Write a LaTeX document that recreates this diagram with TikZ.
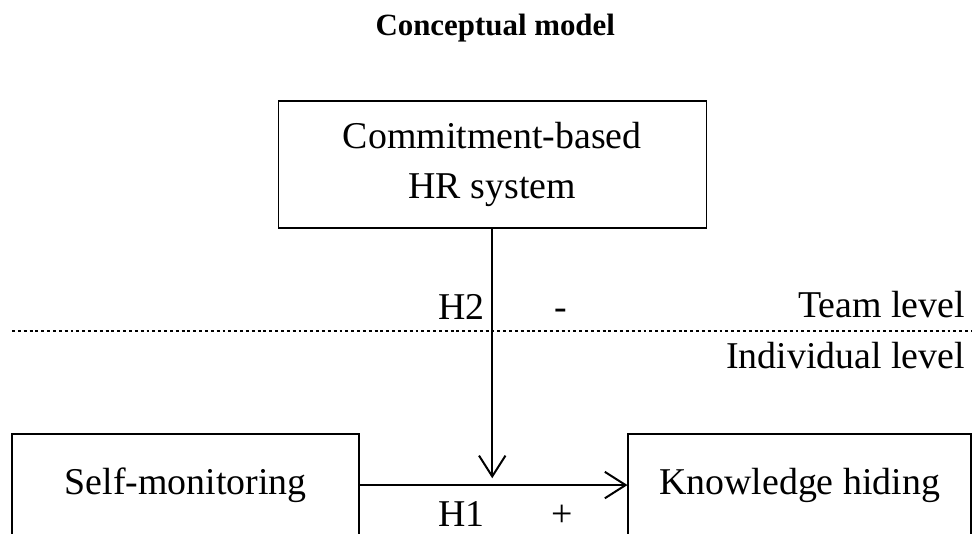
\documentclass[tikz,border=0pt]{standalone}
\usepackage{fontspec}
\setmainfont{Liberation Serif}
\usetikzlibrary{calc,arrows.meta,positioning}

\tikzset{
  box/.style={draw, line width=1pt, inner sep=0pt, align=center,
              font=\fontsize{28.5}{37.5}\selectfont},
  lbl/.style={inner sep=0pt, font=\fontsize{28.5}{37.5}\selectfont},
  path/.style={line width=1.5pt, -{Straight Barb[length=5.5mm,width=7mm]}}
}

\begin{document}
\begin{tikzpicture}[color=black]
\useasboundingbox (0,0) rectangle (25.71,-14.10);
\clip (0,0) rectangle (25.71,-14.10);

\node[anchor=base, inner sep=0pt, font=\fontsize{23.25}{28}\selectfont\bfseries]
  (title) at (13.10,-0.93) {Conceptual model};

% constructs
\node[box, minimum width=11.32cm, minimum height=3.36cm] (hr) at (13.02,-4.35)
  {Commitment-based\\HR system};
\node[box, minimum width=9.18cm, minimum height=2.70cm] (self) at (4.91,-12.83)
  {Self-monitoring};
\node[box, minimum width=9.07cm, minimum height=2.70cm] (kh) at (21.15,-12.83)
  {Knowledge hiding};

\coordinate (tip) at (hr.south |- 0,-12.65);

% levels
\coordinate (lvlL) at (0.32,-8.76);
\coordinate (lvlR) at (25.71,-8.76);
\draw[line width=1.2pt, dash pattern=on 2.2pt off 2.2pt] (lvlL) -- (lvlR);
\node[lbl, anchor=base east] (team) at (25.53,-8.41) {Team level};
\node[lbl, anchor=base east] (indiv) at (25.53,-9.74) {Individual level};

% paths
\draw[path] (self.east) -- (kh.west);
\draw[path] (hr.south) -- (tip);

\node[lbl, anchor=base east] (h2) at (12.83,-8.44) {H2};
\node[lbl, anchor=base] (h2s) at (14.84,-8.44) {-};
\node[lbl, anchor=base] (h1) at (12.21,-13.92) {H1};
\node[lbl, anchor=base] (h1s) at (14.87,-13.92) {+};

\end{tikzpicture}
\end{document}
